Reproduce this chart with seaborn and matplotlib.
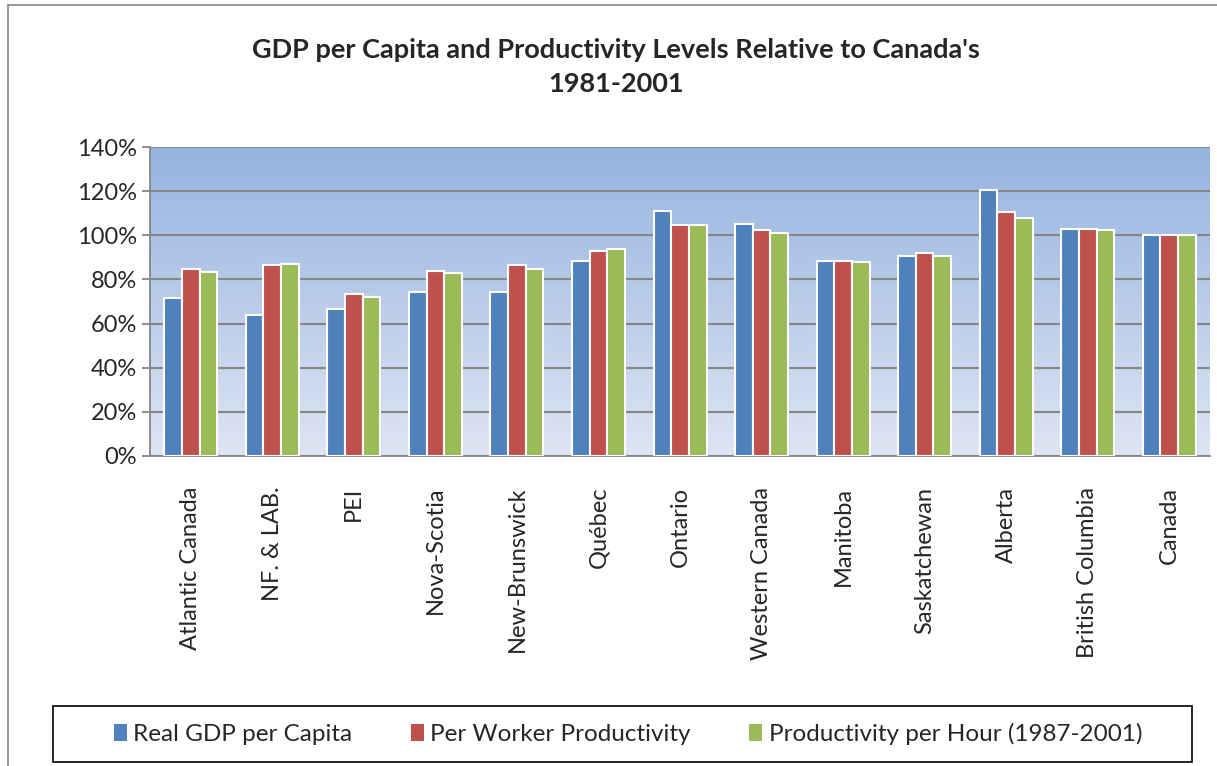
import numpy as np
import pandas as pd
import seaborn as sns
import matplotlib.pyplot as plt
from matplotlib.patches import Rectangle, Patch
from matplotlib.ticker import PercentFormatter

regions = ['Atlantic Canada', 'NF. & LAB.', 'PEI', 'Nova-Scotia', 'New-Brunswick',
           'Québec', 'Ontario', 'Western Canada', 'Manitoba', 'Saskatchewan',
           'Alberta', 'British Columbia', 'Canada']
series = ['Real GDP per Capita', 'Per Worker Productivity',
          'Productivity per Hour (1987-2001)']
gdp_capita = [71.5, 64.0, 66.5, 74.5, 74.5, 88.5, 111.0, 105.0, 88.5, 90.5, 120.5, 103.0, 100.0]
per_worker = [84.5, 86.5, 73.5, 84.0, 86.5, 93.0, 104.8, 102.3, 88.5, 92.0, 110.7, 103.0, 100.0]
per_hour = [83.5, 87.0, 72.0, 83.0, 84.5, 94.0, 104.5, 101.0, 88.0, 90.5, 107.7, 102.5, 100.0]

colors = ['#4F81BD', '#C0504D', '#9BBB59']

df = pd.DataFrame({'region': regions * 3,
                   'series': np.repeat(series, len(regions)),
                   'value': gdp_capita + per_worker + per_hour})

sns.set_style('white')
plt.rcParams['font.family'] = ['Lato', 'DejaVu Sans']

fig = plt.figure(figsize=(12.17, 7.66), dpi=100)
ax = fig.add_axes([150 / 1217, 1 - 456 / 766, (1210 - 150) / 1217, (456 - 147) / 766])

# gradient background of the plot area
grad = np.linspace(0, 1, 256).reshape(-1, 1)
top = np.array([0.584, 0.702, 0.878])
bot = np.array([0.871, 0.898, 0.953])
img = bot + (top - bot) * grad
ax.imshow(img[:, None, :].repeat(2, axis=1), extent=[0, 1, 0, 1], transform=ax.transAxes,
          origin='lower', aspect='auto', zorder=0)

sns.barplot(data=df, x='region', y='value', hue='series', palette=colors, saturation=1,
            width=0.65, edgecolor='white', linewidth=1.5, ax=ax, zorder=3, legend=False)

ax.set_xlim(-0.5, len(regions) - 0.5)
ax.set_ylim(0, 140)
ax.set_yticks(range(0, 141, 20))
ax.yaxis.set_major_formatter(PercentFormatter(decimals=0))
ax.grid(axis='y', color='#868686', linewidth=1.5, zorder=1)
ax.set_axisbelow(False)
for line in ax.get_ygridlines():
    line.set_zorder(1)
ax.set_xlabel('')
ax.set_ylabel('')

ax.set_xticks(np.arange(len(regions)))
ax.set_xticklabels(regions, rotation=90, fontsize=17)
ax.tick_params(axis='x', length=0, pad=22)
ax.set_xticks(np.arange(-0.5, len(regions)), minor=True)
ax.tick_params(axis='x', which='minor', length=7, color='#868686', width=1.3, direction='out')
ax.tick_params(axis='y', labelsize=17, length=6, color='#868686', width=1.3, direction='out', left=True)
for s in ['top', 'right']:
    ax.spines[s].set_visible(False)
for s in ['left', 'bottom']:
    ax.spines[s].set_color('#868686')
    ax.spines[s].set_linewidth(1.3)

fig.text(0.506, 1 - 67 / 766, "GDP per Capita and Productivity Levels Relative to Canada's\n1981-2001",
         ha='center', va='center', fontsize=19.5, fontweight='bold', linespacing=1.5)

# legend with a hand-drawn box (wider than the entries)
handles = [Patch(facecolor=c, edgecolor='none') for c in colors]
fig.legend(handles, series, loc='center', ncol=3, fontsize=17.5,
           bbox_to_anchor=(628 / 1217, 1 - 734 / 766), frameon=False,
           handlelength=0.55, handleheight=0.75, handletextpad=0.25, columnspacing=2.4,
           borderaxespad=0)
fig.patches.append(Rectangle((53 / 1217, 1 - 762 / 766), (1192 - 53) / 1217, 56 / 766,
                             transform=fig.transFigure, fill=False, edgecolor='black', linewidth=1.2))

fig.patches.append(Rectangle((8 / 1217, -0.1), 1.2, 1 - 5 / 766 + 0.1, transform=fig.transFigure,
                             fill=False, edgecolor='#868686', linewidth=1.2))

fig.savefig('out.png', dpi=100)
